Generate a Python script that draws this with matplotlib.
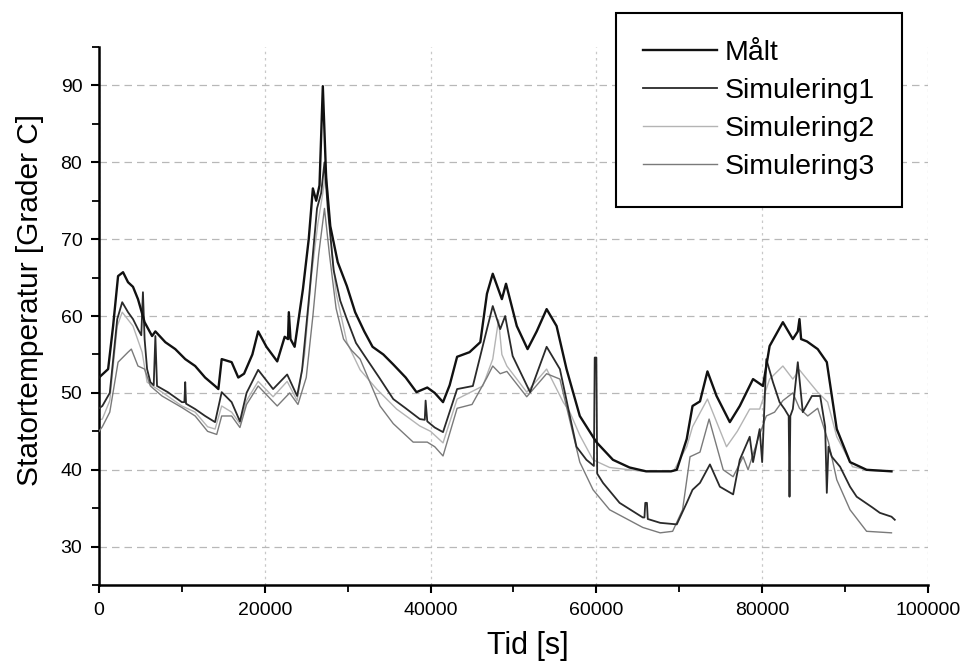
import matplotlib
matplotlib.use("Agg")
import matplotlib.pyplot as plt
from matplotlib.ticker import MultipleLocator

plt.rcParams['font.family'] = ['Liberation Sans', 'DejaVu Sans']

# ---- data (time in s, temperature in degC) ----
malt_t = [0, 400, 1100, 1700, 2300, 2900, 3500, 4100, 4700, 5500, 6400, 6800, 8000, 9200,
          10400, 11600, 12800, 14000, 14400, 14800, 16000, 16800, 17500, 18500, 19200, 20200,
          21500, 22400, 22800, 22900, 23100, 23600, 24600, 25300, 25800, 26200, 26600, 27000,
          27400, 27900, 28800, 29900, 30900, 32000, 33000, 34300, 35500, 37000, 38300, 39600,
          40500, 41500, 42300, 43200, 44700, 46000, 46800, 47500, 48600, 49100, 50400, 51700,
          52800, 54000, 55200, 56400, 58000, 60000, 62000, 64000, 66000, 69000, 69700, 70900,
          71600, 72500, 73400, 74500, 76100, 77300, 78900, 80100, 80900, 82500, 83700, 84300,
          84500, 84700, 85400, 86700, 87800, 89000, 90600, 92600, 95600]
malt_v = [52, 52.4, 53.1, 58.7, 65.2, 65.7, 64.4, 63.8, 62.2, 59.2, 57.4, 58, 56.6, 55.7,
          54.4, 53.5, 52, 50.9, 50.5, 54.4, 54, 52, 52.5, 55, 58, 56,
          54.1, 57.3, 57.0, 60.5, 57, 56, 63.5, 70, 76.6, 75, 77, 89.9,
          78, 71.7, 67, 63.9, 60.5, 58, 56, 55, 53.7, 52, 50.1, 50.7,
          50, 48.8, 51, 54.7, 55.3, 56.6, 62.9, 65.5, 62.2, 64.2, 58.7, 55.7,
          58, 60.9, 58.7, 53.1, 47, 43.6, 41.3, 40.3, 39.8, 39.8, 40, 44,
          48.3, 48.9, 52.8, 49.6, 46.2, 48.3, 51.8, 50.9, 56.1, 59.2, 57, 58,
          59.6, 57, 56.7, 55.7, 54, 45.3, 41, 40, 39.8]

sim1_t = [0, 400, 1300, 2200, 2800, 3500, 4100, 4700, 5100, 5300, 5500, 5800, 6200, 6600,
          6800, 7000, 8300, 10000, 10300, 10400, 10500, 11600, 12800, 14000, 14800, 16000,
          17000, 17800, 19200, 21000, 22700, 23900, 24500, 25300, 25800, 26300, 26800, 27200,
          27600, 28300, 29100, 29900, 31000, 32300, 33800, 35500, 37000, 38700, 39300, 39400,
          39600, 40500, 41500, 43200, 45100, 46800, 47500, 48400, 49000, 49900, 52000, 54000,
          55600, 56800, 57600, 58800, 59700, 59800, 60000, 60100, 60800, 62800, 65600, 65800,
          65900, 66100, 66200, 67700, 69700, 70900, 71600, 72500, 73700, 74900, 76500, 77300,
          78500, 78900, 79700, 80000, 80500, 81300, 82100, 82700, 83200, 83300, 83400, 83700,
          84300, 84900, 86000, 87000, 87600, 87800, 88000, 88400, 89400, 90600, 91400, 93300,
          94200, 95600, 96000]
sim1_v = [48, 48.3, 50, 59.6, 61.8, 60.5, 59.6, 58.3, 57.5, 63.1, 57, 53.1, 51.4, 51,
          57.4, 50.9, 50.1, 48.8, 48.8, 51.4, 48.6, 47.9, 47, 46.2, 50.1, 48.8,
          46.3, 50, 53, 50.5, 52.4, 49.6, 53, 62, 68, 74, 76, 80,
          74, 66, 62, 59.6, 56.5, 54.4, 52, 49.2, 48, 46.6, 46.5, 49,
          46.3, 45.5, 44.9, 50.5, 50.9, 58.3, 61.3, 58.3, 60, 54.8, 50.1, 56,
          53.1, 47, 43, 41.3, 40.5, 54.6, 54.6, 39.5, 38.3, 35.7, 33.8, 33.8,
          35.7, 35.7, 33.6, 33.1, 32.9, 35.7, 37.4, 38.3, 40.7, 37.8, 36.8, 41.3,
          44.3, 41, 45.3, 41, 54.4, 51.4, 48.8, 47.9, 47, 36.5, 47, 47.9,
          54, 47.5, 49.6, 49.6, 45.6, 37, 43, 41.7, 40.4, 37.8, 36.5, 35.1,
          34.4, 33.9, 33.5]

sim2_t = [0, 400, 1300, 2200, 2800, 4100, 5200, 5800, 7600, 10000, 11600, 13100, 14000,
          14800, 16000, 17000, 17800, 19200, 21000, 22700, 23900, 24800, 25600, 26400, 27000,
          27400, 27800, 28600, 29900, 31500, 33500, 35900, 38700, 40000, 41500, 43200, 46300,
          47500, 48200, 48600, 49200, 51600, 54000, 56000, 56800, 58000, 59600, 61600, 65600,
          69300, 70900, 71600, 73400, 75700, 77000, 78500, 79700, 80900, 82500, 83700, 84500,
          85700, 86700, 87900, 89000, 90900, 93000, 95600]
sim2_v = [46.5, 46.6, 49, 58.7, 60.5, 58.7, 55.3, 51.4, 50.1, 48.3, 47.5, 45.6, 45.3,
          48.3, 47.5, 46, 49, 51.5, 49.5, 51.5, 49, 55, 65, 72, 76,
          79, 72, 63, 56.6, 53, 50.5, 47.9, 45.7, 45, 43.5, 49.2, 50.9,
          54.4, 59.5, 55, 53.5, 50.1, 53.1, 48.8, 47.5, 44.5, 41.3, 40.3, 39.8,
          39.8, 43, 45.6, 49.2, 43, 45, 47.9, 47.9, 51.8, 53.5, 51.8, 53,
          51.4, 50.1, 48.8, 44.3, 40.4, 39.9, 39.8]

sim3_t = [0, 400, 1300, 2300, 3500, 3900, 4700, 5500, 6200, 7600, 10000, 11600, 13100,
          14200, 14800, 16000, 17000, 17800, 19200, 21500, 23000, 24000, 25000, 25800, 26500,
          27200, 27800, 28600, 29500, 30500, 31500, 33900, 35500, 37900, 39600, 40500, 41500,
          43200, 45000, 46800, 47500, 48400, 49200, 51600, 54000, 55600, 58000, 59600, 61600,
          65600, 67700, 69200, 70400, 71300, 72500, 73600, 75300, 76500, 77700, 78300, 79500,
          80500, 81500, 82500, 83700, 84500, 85500, 86700, 88000, 89000, 90600, 92600, 95600]
sim3_v = [45, 45.6, 47.5, 54, 55.3, 55.7, 53.5, 53.1, 50.9, 49.6, 48.1, 47, 45,
          44.6, 47, 47, 45.5, 48.5, 50.9, 48.3, 50, 48.5, 52, 60, 68,
          74, 68, 61, 57, 55.5, 54.4, 48.3, 46, 43.6, 43.6, 43, 41.8,
          48, 48.5, 52, 53.5, 52.5, 52.8, 49.5, 52.5, 51.8, 41, 37.4, 34.8,
          32.5, 31.8, 32, 34.8, 41.7, 42.3, 46.6, 40, 39.1, 41.7, 40, 44,
          47, 47.5, 49, 50, 48, 47, 48, 43.6, 38.7, 34.8, 32, 31.8]

labels = ['Målt', 'Simulering1', 'Simulering2', 'Simulering3']
x_ticks = [0, 20000, 40000, 60000, 80000, 100000]
y_ticks = [30, 40, 50, 60, 70, 80, 90]

# ---- figure ----
fig = plt.figure(figsize=(9.65, 6.71), dpi=100)
ax = fig.add_axes([0.1026, 0.128, 0.859, 0.802])

ax.plot(sim2_t, sim2_v, color='#b4b4b4', lw=1.0, label=labels[2], zorder=2)
ax.plot(sim3_t, sim3_v, color='#7a7a7a', lw=1.0, label=labels[3], zorder=3)
ax.plot(sim1_t, sim1_v, color='#2a2a2a', lw=1.3, label=labels[1], zorder=4)
ax.plot(malt_t, malt_v, color='#111111', lw=1.7, label=labels[0], zorder=5)

ax.set_xlim(0, 100000)
ax.set_ylim(25, 95)
ax.set_xticks(x_ticks)
ax.set_yticks(y_ticks)
ax.set_xticklabels([str(v) for v in x_ticks])
ax.xaxis.set_minor_locator(MultipleLocator(10000))
ax.yaxis.set_minor_locator(MultipleLocator(5))

ax.grid(True, which='major', axis='y', color='#b8b8b8', lw=0.9, linestyle=(0, (6, 4)))
ax.grid(True, which='major', axis='x', color='#c8c8c8', lw=0.9, linestyle=(0, (2, 3)))

for s in ['top', 'right']:
    ax.spines[s].set_visible(False)
for s in ['left', 'bottom']:
    ax.spines[s].set_linewidth(1.8)

ax.tick_params(which='major', direction='out', length=6, width=1.5, labelsize=14, pad=6)
ax.tick_params(which='minor', direction='out', length=5, width=1.3)

ax.set_xlabel('Tid [s]', fontsize=22)
ax.set_ylabel('Statortemperatur [Grader C]', fontsize=21.5)
ax.xaxis.set_label_coords(0.517, -0.085)
ax.yaxis.set_label_coords(-0.066, 0.53)

handles, labs = ax.get_legend_handles_labels()
order = [labs.index(l) for l in labels]
leg = fig.legend([handles[i] for i in order], [labs[i] for i in order],
                 loc='upper right', bbox_to_anchor=(0.935, 0.981), borderaxespad=0,
                 fontsize=20.5, handlelength=2.6, handletextpad=0.28, labelspacing=0.42,
                 borderpad=0.95, frameon=True, fancybox=False, framealpha=1)
leg.get_frame().set_edgecolor('black')
leg.get_frame().set_linewidth(1.5)

fig.savefig('out.png', dpi=100)
